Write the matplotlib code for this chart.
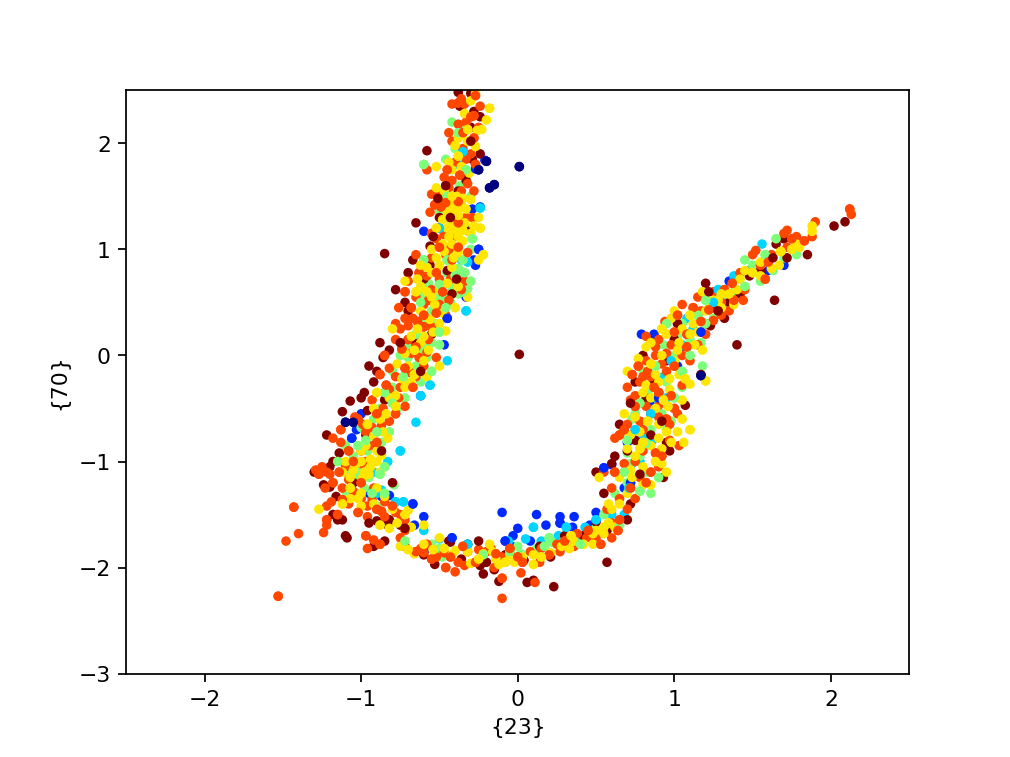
import matplotlib
matplotlib.use('Agg')
import matplotlib.pyplot as plt
import numpy as np

# colour level -> points (x, y)
navy_pts = [(0.01,1.78),(-0.18,1.58),(-0.15,1.61),(-0.25,1.75),(-0.2,1.83),(-1.10,-0.63),(-1.05,-0.63),(1.17,-0.19)]

blue_pts = [(-0.27,1.76),(-0.21,1.84),(-0.24,1.4),(-0.29,1.38),(-0.6,1.17),(-0.25,1.0),(-0.28,0.9),(-0.27,0.85),(-0.33,0.55),
(-0.47,0.42),(-0.45,0.35),(-0.47,0.1),(-0.62,-0.38),(-1.0,-0.55),(-1.03,-0.7),(-1.06,-0.78),(-0.92,-0.85),(-0.95,-1.3),(-0.87,-1.33),(-0.82,-1.32),
(-0.67,-1.4),(-0.74,-1.58),(-0.6,-1.52),(-0.66,-1.6),(-0.58,-1.82),(-0.42,-1.72),(-0.1,-1.48),(0.12,-1.5),(0.18,-1.6),(0.27,-1.52),
(0.27,-1.58),(0.36,-1.52),(0.35,-1.62),(0.46,-1.6),(-0.03,-1.7),(-0.08,-1.75),(0.0,-1.63),(-0.04,-1.8),(0.08,-1.75),(0.5,-1.48),(0.55,-1.06),(0.6,-1.03),(0.7,-0.82),
(0.78,-0.82),(0.85,-0.43),(0.9,-0.4),(0.87,0.2),(0.79,0.2),(1.03,0.05),(1.02,-0.1),(1.17,0.22),(1.35,0.7),(1.48,0.8),(1.6,0.8),(1.7,0.85),(0.72,-1.2),(0.68,-1.25)]

cyan_pts = [(-0.24,1.39),(-0.32,0.88),(-0.36,0.9),(-0.33,0.42),(-0.4,0.65),(-0.45,0.78),(-0.5,1.2),(-0.48,1.5),(-0.38,1.8),(-0.35,1.92),(-0.6,0.35),(-0.45,-0.05),(-0.56,-0.28),
(-0.62,-0.38),(-0.65,-0.63),(-0.75,-0.9),(-0.83,-1.0),(-0.92,-1.1),(-0.78,-1.38),(-0.87,-1.27),(-0.9,-1.3),(-0.73,-1.38),(-0.6,-1.65),(-0.5,-1.73),(-0.32,-1.78),
(-0.06,-1.75),(0.05,-1.73),(0.1,-1.62),(0.15,-1.75),(0.26,-1.7),(0.31,-1.62),(0.4,-1.7),(0.43,-1.62),(0.5,-1.55),(0.6,-1.5),(0.68,-1.5),(0.71,-1.25),(0.8,-0.75),(0.86,-0.8),(0.75,-0.7),
(0.9,-0.45),(0.93,-0.2),(0.85,-0.55),(1.05,0.1),(0.95,-0.4),(0.98,-0.05),(1.08,0.35),(1.12,0.25),(1.25,0.5),(1.38,0.75),(1.56,1.05),(1.28,0.62),(0.78,-1.0),(0.73,-1.02)]

green_pts = [(-0.6,1.8),(-0.46,1.85),(-0.42,2.2),(-0.38,2.1),(-0.4,1.95),(-0.34,2.15),(-0.33,1.75),(-0.37,1.6),(-0.3,1.5),(-0.45,1.5),(-0.5,1.35),(-0.32,1.2),(-0.29,1.1),(-0.3,1.0),
(-0.42,0.98),(-0.45,0.9),(-0.35,0.9),(-0.38,0.82),(-0.4,0.75),(-0.36,0.7),(-0.32,0.63),(-0.3,0.7),(-0.45,0.78),(-0.42,0.62),(-0.5,0.67),(-0.38,0.58),(-0.43,0.5),(-0.6,0.9),(-0.57,0.68),(-0.52,0.55),(-0.46,0.45),
(-0.6,0.58),(-0.55,0.42),(-0.62,0.5),(-0.6,0.3),(-0.53,0.3),(-0.5,0.22),(-0.55,0.12),(-0.6,0.1),(-0.65,0.2),(-0.7,0.1),(-0.62,0.02),(-0.5,0.1),(-0.65,-0.1),(-0.7,-0.02),(-0.55,-0.15),(-0.75,0.0),(-0.8,-0.15),(-0.73,-0.2),(-0.62,-0.25),(-0.8,-0.3),
(-0.85,-0.35),(-0.72,-0.4),(-0.77,-0.5),(-0.8,-0.45),(-0.88,-0.5),(-0.92,-0.6),(-0.9,-0.72),(-0.82,-0.72),(-1.0,-0.68),(-1.02,-0.85),(-0.96,-0.9),(-0.92,-1.0),(-0.85,-1.05),(-1.1,-0.85),(-1.05,-0.95),(-1.15,-1.0),(-1.0,-1.1),(-0.95,-1.15),
(-0.88,-1.12),(-1.1,-1.28),(-0.79,-1.22),(-0.85,-1.3),(-0.9,-1.42),(-0.82,-1.55),(-0.72,-1.75),(-0.55,-1.78),(-0.48,-1.9),(-0.22,-1.88),(-0.5,-1.82),(-0.12,-1.9),(-0.05,-1.85),(0.02,-1.87),(0.12,-1.82),
(0.17,-1.8),(0.22,-1.76),(0.3,-1.72),(0.4,-1.78),(0.5,-1.62),(0.55,-1.5),(0.65,-1.6),(0.62,-1.3),(0.7,-1.2),(0.68,-1.1),(0.72,-1.02),(0.82,-1.1),(0.78,-1.28),(0.85,-1.3),(0.75,-0.55),(0.7,-0.8),(0.85,-0.7),(0.95,-0.7),(0.82,-0.83),(0.7,-0.92),
(0.73,-0.6),(0.78,-0.45),(0.83,-0.35),(0.92,-0.55),(1.0,-0.4),(1.05,-0.3),(0.95,-0.25),(0.88,-0.1),(0.8,-0.15),(1.0,0.0),(1.1,0.0),(0.93,0.1),(1.02,0.18),(0.95,0.3),(1.1,0.15),(1.17,0.12),(1.2,0.3),(1.25,0.35),(1.32,0.42),(1.2,0.52),(1.3,0.55),(1.38,0.6),(1.45,0.65),(1.55,0.7),
(1.5,0.85),(1.58,0.95),(1.7,0.92),(1.78,0.95),(1.65,1.1),(1.63,0.8),(1.45,0.9),(1.05,-0.15),(1.18,-0.1),(1.05,0.3),(1.15,0.38),
(-0.41,0.68),(-0.37,0.76),(-0.34,0.78),(-0.44,0.56),(-0.48,0.52),(-0.35,0.6),(-1.03,-1.15),(-0.98,-1.25),(-0.93,-1.3),(-1.08,-1.12),(-0.87,-0.82),(-0.97,-0.8),(-0.7,-0.28),(-0.58,-0.02),(0.2,-1.72),(0.0,-1.8),(-0.18,-1.84),(0.9,-1.15),(0.78,-0.95),(0.98,-0.62)]

dark_pts = [(-0.85,0.96),(2.02,1.22),(2.09,1.26),(1.64,0.52),(1.40,0.10),(0.57,-1.95),(0.23,-2.18),(-0.38,2.48),(-0.3,2.47),(-0.28,2.3),(-0.24,2.25),(-0.3,2.15),(-0.37,2.35),(-0.58,1.93),(-0.24,1.9),(-0.29,1.85),(-0.33,1.65),(-0.38,1.55),(-0.35,1.72),(-0.46,1.6),
(-0.5,1.3),(-0.65,1.25),(-0.5,1.2),(-0.38,1.2),(-0.31,1.17),(-0.56,1.03),(-0.67,0.9),(-0.7,0.78),(-0.56,0.85),(-0.6,0.72),(-0.78,0.62),(-0.7,0.42),(-0.72,0.5),(-0.45,0.8),(-0.42,0.58),(-0.55,0.2),(-0.65,0.12),(-0.88,0.12),(-0.82,0.05),(-0.86,-0.02),(-0.9,-0.15),(-0.92,-0.25),(-0.95,-0.1),(-0.96,-0.52),
(-0.98,-0.35),(-0.85,-0.42),(-1.12,-0.53),(-1.07,-0.43),(-0.97,-0.75),(-1.0,-0.4),(-1.22,-0.75),(-1.14,-0.92),(-1.18,-1.0),(-1.3,-1.1),(-1.2,-1.05),(-1.24,-1.22),(-1.2,-1.24),(-1.18,-1.5),(-1.16,-1.33),(-1.15,-1.55),(-1.05,-1.2),(-1.12,-1.55),(-1.1,-1.7),(-1.09,-1.72),(-0.9,-1.56),(-0.85,-1.57),
(-0.83,-1.6),(-0.92,-1.8),(-0.85,-1.75),(-0.82,-1.55),(-0.75,-1.6),(-0.72,-1.8),(-0.6,-1.88),(-0.53,-1.97),(-0.44,-1.75),(-0.43,-1.76),(-0.36,-1.92),(-0.32,-1.78),(-0.24,-1.98),(-0.22,-2.06),(-0.2,-1.95),(-0.15,-2.02),(-0.12,-2.13),(-0.12,-1.9),(-0.08,-1.88),(0.04,-1.93),(0.06,-2.14),(0.1,-2.12),(0.14,-1.8),
(0.21,-1.9),(0.3,-1.7),(0.42,-1.7),(0.5,-1.57),(0.57,-1.65),(0.58,-1.62),(0.5,-1.1),(0.6,-1.02),(0.62,-0.95),(0.75,-0.8),(0.65,-0.65),(0.7,-0.9),(0.82,-0.4),(0.95,-0.05),(0.87,-0.25),(0.85,-0.75),(0.95,-0.82),(0.9,-0.35),(0.8,0.0),(0.75,-0.25),(1.0,0.15),(1.02,0.3),(1.07,-0.47),(0.97,-0.9),(1.17,-0.18),(1.25,0.45),(1.3,0.48),(1.35,0.5),(1.42,0.58),(1.2,0.68),(1.48,0.75),(1.55,0.8),(1.72,0.92),(1.85,0.95),(1.65,1.05),(1.7,1.1),(1.2,0.3),(1.32,0.35),(1.23,0.28),
(0.93,-1.15),(0.72,-1.4),(0.55,-1.3),(0.7,-1.55),(0.58,-1.6)]

orange_pts = [(-1.53,-2.27),(-1.48,-1.75),(-1.40,-1.68),(-1.43,-1.43),(-0.1,-2.29),(1.72,1.18),(2.12,1.38),(2.13,1.33),(1.9,1.26),(-0.28,2.26),(-0.58,1.75),(-0.36,2.42),(-0.38,2.38),(-0.34,2.37),(-0.42,2.37),(-0.27,2.45),(-0.24,2.35),(-0.25,2.15),(-0.28,2.05),(-0.44,2.1),(-0.33,2.2),(-0.3,2.25),(-0.38,2.18),(-0.42,2.02),(-0.35,2.1),
(-0.35,1.95),(-0.3,1.9),(-0.27,1.8),(-0.33,1.85),(-0.4,1.82),(-0.45,1.75),(-0.47,1.68),(-0.42,1.65),(-0.37,1.7),(-0.32,1.62),(-0.28,1.55),(-0.38,1.45),(-0.55,1.52),(-0.5,1.55),(-0.53,1.42),(-0.56,1.35),(-0.45,1.3),(-0.38,1.25),(-0.33,1.3),(-0.29,1.3),(-0.55,1.15),(-0.52,1.1),(-0.42,1.1),(-0.38,1.02),
(-0.46,0.95),(-0.32,0.97),(-0.42,0.9),(-0.65,0.95),(-0.55,0.92),(-0.63,0.78),(-0.5,0.72),(-0.43,0.72),(-0.36,0.62),(-0.34,0.7),(-0.55,0.62),(-0.48,0.6),(-0.57,0.52),(-0.7,0.7),(-0.72,0.6),(-0.76,0.45),(-0.65,0.55),(-0.68,0.45),(-0.7,0.28),(-0.72,0.35),(-0.6,0.38),(-0.5,0.48),(-0.44,0.52),(-0.52,0.4),(-0.75,0.25),(-0.78,0.3),(-0.6,0.27),
(-0.67,0.35),(-0.55,0.27),(-0.7,0.15),(-0.78,0.15),(-0.68,0.02),(-0.65,0.08),(-0.58,0.03),(-0.52,-0.02),(-0.85,0.0),(-0.82,-0.12),(-0.78,-0.2),(-0.72,-0.12),(-0.65,-0.2),(-0.6,-0.1),(-0.67,-0.3),(-0.75,-0.3),(-0.82,-0.32),(-0.88,-0.18),(-0.93,-0.42),(-0.86,-0.5),(-0.78,-0.55),(-0.72,-0.48),(-0.82,-0.62),(-0.9,-0.55),(-0.99,-0.65),(-1.04,-0.58),
(-1.02,-0.6),(-0.97,-0.72),(-1.13,-0.82),(-1.13,-0.7),(-1.18,-0.78),(-1.0,-0.9),(-1.05,-1.0),(-0.97,-1.0),(-0.95,-0.85),(-1.08,-0.9),(-1.22,-1.1),(-1.29,-1.08),(-1.27,-1.12),(-1.25,-1.05),(-1.2,-1.12),(-1.18,-1.2),(-1.23,-1.25),(-1.19,-1.38),(-1.15,-1.5),(-1.22,-1.6),(-1.24,-1.67),(-1.22,-1.55),(-1.22,-1.42),(-1.12,-1.25),(-1.14,-1.1),(-1.08,-1.17),(-1.05,-1.28),(-1.0,-1.2),(-1.0,-1.35),(-0.96,-1.42),(-0.9,-1.45),(-0.85,-1.38),(-0.92,-1.25),
(-0.87,-1.47),(-0.78,-1.48),(-0.75,-1.5),(-0.8,-1.42),(-0.72,-1.55),(-0.85,-1.52),(-1.02,-1.48),(-0.96,-1.52),(-1.08,-1.4),(-0.97,-1.7),(-0.92,-1.74),(-0.96,-1.82),(-0.88,-1.78),(-0.72,-1.65),(-0.75,-1.72),(-0.65,-1.85),(-0.62,-1.82),(-0.6,-1.86),(-0.55,-1.92),(-0.52,-1.9),(-0.47,-1.86),(-0.43,-1.9),(-0.38,-1.95),(-0.34,-1.98),(-0.46,-2.0),(-0.4,-2.04),(-0.32,-1.85),(-0.27,-1.95),(-0.2,-1.85),(-0.17,-1.82),(-0.14,-1.87),(-0.1,-1.9),(-0.15,-2.0),(-0.1,-2.1),(-0.08,-1.95),(-0.05,-1.87),(0.03,-1.95),
(0.02,-2.05),(0.11,-2.14),(0.0,-1.9),(0.08,-1.85),(0.14,-1.95),(0.2,-1.88),(0.27,-1.85),(0.36,-1.8),(0.3,-1.75),(0.38,-1.68),(0.44,-1.72),(0.53,-1.78),(0.5,-1.72),(0.6,-1.72),(0.64,-1.65),(0.6,-1.58),(0.57,-1.45),(0.65,-1.55),(0.7,-1.45),(0.75,-1.35),(0.72,-1.25),(0.65,-1.35),(0.78,-1.15),(0.85,-1.1),(0.9,-1.05),(0.55,-1.1),(0.62,-1.1),(0.75,-1.0),(0.8,-0.9),(0.92,-0.95),(1.03,-0.85),
(0.97,-0.8),(0.65,-0.75),(0.62,-0.78),(0.7,-0.65),(0.68,-0.7),(0.78,-0.62),(0.85,-0.55),(0.95,-0.6),(1.02,-0.55),(0.72,-0.42),(0.75,-0.48),(0.82,-0.48),(0.9,-0.47),(1.0,-0.5),(0.7,-0.3),(0.78,-0.25),(0.87,-0.3),(0.95,-0.15),(1.05,-0.28),(0.73,-0.18),(0.8,-0.2),(0.92,-0.08),(1.0,-0.1),(1.1,-0.05),(0.82,-0.05),(0.77,-0.1),(0.88,0.0),(0.95,0.02),(1.08,0.08),(0.82,0.18),(0.9,0.15),(1.0,0.22),(1.15,0.1),(0.94,0.32),(1.02,0.38),(1.2,0.2),(1.17,0.42),(1.12,0.45),(1.05,0.48),(1.25,0.33),(1.22,0.43),(1.28,0.42),(1.3,0.5),(1.38,0.52),(1.44,0.52),(1.45,0.62),(1.32,0.62),(1.25,0.6),(1.15,0.55),
(1.58,0.72),(1.55,0.85),(1.42,0.78),(1.37,0.68),(1.5,0.95),(1.52,0.99),(1.6,0.88),(1.62,0.95),(1.72,1.02),(1.75,1.1),(1.78,1.12),(1.7,1.15),(1.83,1.08),(1.88,1.12),
(-0.41,1.42),(-0.46,1.44),(-0.36,1.55),(-0.44,1.58),(-0.49,1.4),(-0.4,1.12),(-0.47,1.14),(-0.5,1.02),(-0.44,1.0),(-0.58,0.75),(-0.52,0.78),(-0.6,0.48),(-0.46,0.38),(-0.64,0.32),(-0.57,0.15),(-0.63,-0.02),(-0.74,0.06),(-0.69,-0.16),(-0.76,-0.4),(-0.84,-0.28),(-0.87,-0.66),(-0.93,-0.68),(-0.9,-0.82),(-1.1,-1.05),(-1.0,-1.02),(-1.12,-1.36),(-0.93,-1.36),
(0.85,-0.2),(0.9,-0.35),(0.83,-0.15),(0.75,-0.38),(0.98,-0.38),(0.9,-0.58),(0.8,-0.7),(0.88,-0.92),(0.68,-1.02),(0.6,-1.25),(0.82,-1.2),(0.97,-0.65),(1.05,0.0),(1.08,0.2),(0.98,0.1),(0.88,0.08),(1.17,0.32),(1.35,0.42),(1.3,0.38),(0.45,-1.65),(0.25,-1.78),(0.15,-1.82),(-0.05,-1.82),(-0.25,-1.83),(-0.58,-1.78),(-0.35,-1.8)]

yellow_pts = [(-0.18,2.33),(-0.2,2.22),(-0.34,2.28),(-0.3,2.4),(-0.27,2.47),(-0.32,2.13),(-0.26,2.12),(-0.23,2.13),(-0.38,2.05),(-0.4,1.98),(-0.32,2.02),(-0.27,1.97),(-0.44,1.82),(-0.52,1.78),(-0.42,1.75),(-0.38,1.88),(-0.31,1.72),(-0.36,1.78),(-0.52,1.58),(-0.47,1.55),(-0.42,1.5),(-0.35,1.48),(-0.3,1.47),
(-0.25,1.3),(-0.28,1.22),(-0.24,1.2),(-0.42,1.42),(-0.38,1.38),(-0.33,1.38),(-0.45,1.35),(-0.38,1.32),(-0.42,1.25),(-0.35,1.18),(-0.3,1.15),(-0.48,1.28),(-0.52,1.2),(-0.45,1.2),(-0.4,1.18),(-0.35,1.08),(-0.25,0.9),(-0.22,0.95),(-0.42,1.05),(-0.48,1.05),(-0.55,1.0),(-0.38,0.97),(-0.62,0.85),(-0.5,0.85),(-0.42,0.83),(-0.55,0.78),(-0.45,0.68),(-0.38,0.65),(-0.62,0.65),(-0.55,0.55),
(-0.32,0.55),(-0.4,0.45),(-0.65,0.6),(-0.53,0.48),(-0.72,0.7),(-0.62,0.42),(-0.8,0.25),(-0.68,0.18),(-0.6,0.18),(-0.5,0.3),(-0.46,0.23),(-0.57,0.05),(-0.64,0.25),(-0.72,0.02),(-0.6,-0.05),(-0.5,-0.1),(-0.7,-0.1),(-0.66,-0.18),(-0.58,-0.2),(-0.77,-0.08),(-0.78,-0.38),(-0.72,-0.3),(-0.9,-0.35),(-0.82,-0.4),
(-0.88,-0.6),(-0.86,-0.72),(-0.92,-0.76),(-0.96,-0.65),(-1.0,-0.9),(-0.97,-0.85),(-0.83,-0.78),(-0.9,-0.9),(-0.94,-0.98),(-1.04,-1.02),(-1.1,-1.0),(-1.12,-1.1),(-1.05,-1.08),(-1.07,-1.25),(-0.98,-1.1),(-0.88,-1.1),(-0.9,-1.0),(-0.95,-1.12),(-1.0,-1.3),(-1.03,-1.02),(-0.99,-1.15),(-0.87,-0.94),
(-1.27,-1.45),(-1.12,-1.4),(-1.07,-1.35),(-1.02,-1.35),(-1.0,-1.42),(-0.92,-1.4),(-0.88,-1.6),(-0.82,-1.63),(-0.8,-1.45),(-0.85,-1.33),(-0.9,-1.25),(-0.72,-1.5),(-0.7,-1.46),(-0.68,-1.62),(-0.77,-1.58),(-0.75,-1.8),(-0.7,-1.83),(-0.66,-1.87),(-0.6,-1.6),(-0.5,-1.72),(-0.6,-1.78),(-0.54,-1.83),
(-0.47,-1.82),(-0.42,-1.88),(-0.32,-1.85),(-0.3,-1.96),(-0.25,-1.92),(-0.18,-1.78),(-0.16,-1.85),(-0.14,-1.92),(-0.12,-1.97),(-0.08,-1.95),(-0.05,-1.88),(0.03,-1.9),(-0.02,-1.95),(0.1,-1.97),(0.15,-1.9),(0.21,-1.86),(0.28,-1.8),(0.36,-1.75),(0.42,-1.78),(0.34,-1.7),(0.48,-1.68),(0.5,-1.65),(0.55,-1.68),
(0.48,-1.78),(0.58,-1.58),(0.62,-1.62),(0.6,-1.45),(0.65,-1.4),(0.7,-1.3),(0.73,-1.15),(0.8,-1.22),(0.8,-1.05),(0.85,-1.22),(0.92,-1.02),(0.88,-1.0),(0.65,-1.15),(0.52,-1.15),(0.75,-0.95),(0.7,-0.88),(0.8,-0.82),(0.9,-0.78),(0.85,-0.85),(0.98,-0.82),(1.06,-0.82),(1.1,-0.7),(1.05,-0.6),(1.02,-0.72),(0.95,-0.72),(0.9,-0.65),(0.83,-0.62),
(0.78,-0.72),(0.68,-0.55),(0.75,-0.58),(0.88,-0.5),(0.96,-0.48),(1.05,-0.42),(0.8,-0.35),(0.9,-0.25),(0.97,-0.32),(1.07,-0.22),(1.1,-0.27),(0.82,-0.28),(0.7,-0.15),(0.77,-0.03),(0.85,-0.08),(0.92,0.0),(1.0,-0.05),(1.02,0.05),(1.13,0.1),(1.1,0.2),(1.03,0.12),(0.85,0.12),(0.95,0.2),(0.82,0.08),(1.2,-0.24),(1.18,0.05),(1.12,0.3),(1.05,0.25),(1.0,0.42),(1.1,0.38),(1.2,0.42),
(1.18,0.6),(1.25,0.52),(1.3,0.45),(1.35,0.58),(1.4,0.62),(1.42,0.72),(1.28,0.52),(1.45,0.8),(1.5,0.78),(1.55,0.75),(1.62,0.82),(1.67,0.85),(1.6,0.92),(1.75,1.0),(1.78,1.05),(1.88,1.17),(1.88,1.22),(1.8,1.02),(1.68,0.98),
(-0.43,1.46),(-0.39,1.5),(-0.47,1.46),(-0.36,1.42),(-0.41,1.33),(-0.34,1.25),(-0.44,1.12),(-0.38,1.12),(-0.47,0.98),(-0.41,0.92),(-0.52,0.92),(-0.58,0.83),(-0.5,0.62),(-0.58,0.6),(-0.64,0.72),(-0.48,0.4),(-0.56,0.34),(-0.54,0.22),(-0.62,0.12),(-0.66,0.05),(-0.74,-0.22),(-0.68,-0.25),(-0.84,-0.55),(-0.92,-0.5),(-0.78,-0.48),(-1.0,-1.0),(-1.07,-1.15),(-0.94,-1.05),
(0.85,-0.4),(0.93,-0.42),(0.88,-0.18),(0.97,-0.22),(1.03,-0.18),(0.72,-0.75),(0.78,-0.88),(0.92,-0.88),(0.95,-1.1),(0.72,-1.08),(0.58,-1.4),(0.55,-1.62),(0.33,-1.82),(0.1,-1.88),(-0.22,-1.87),(-0.4,-1.84),(0.92,0.25),(0.98,0.35),(1.15,0.22),(1.22,0.5),(1.38,0.48),(1.3,0.58),(1.55,0.88)]

# a few dark red ones sit on top of the rest
dark_top_pts = [(0.01,0.01),(-0.51,1.48),(-0.46,1.6),(-0.43,1.3),(-0.54,1.12),(-0.39,0.72),(-0.3,2.02),(-0.75,0.12),(-0.62,-0.15),(-0.87,-0.9),(-0.8,-1.2),(-0.95,-1.58),(0.72,-0.45),(0.92,-0.62),(0.78,-1.12),(1.28,0.42),(1.63,0.92),(1.22,0.6),(-0.72,-1.63),(-0.25,-1.75)]

# order of drawing: (points, colour level), the colours are mixed in the original
layers = [(navy_pts, 0), (blue_pts, 1), (cyan_pts, 2), (green_pts, 3), (dark_pts, 6), (orange_pts, 5),
          (yellow_pts, 4), (blue_pts[::5], 1), (cyan_pts[::3], 2), (green_pts[::3], 3), (orange_pts[::3], 5),
          (yellow_pts[::5], 4), (dark_top_pts, 6), (navy_pts, 0)]

fig = plt.figure(figsize=(6.4, 4.8), dpi=157.85)
ax = fig.add_subplot(111)
for pts, lev in layers:
    arr = np.array(pts)
    ax.scatter(arr[:, 0], arr[:, 1], c=[lev] * len(arr), cmap='jet', vmin=0, vmax=6, s=19, linewidths=0)
ax.set_xlim(-2.5, 2.5)
ax.set_ylim(-3, 2.5)
ax.set_xlabel('{23}')
ax.set_ylabel('{70}')
fig.savefig('out.png')
